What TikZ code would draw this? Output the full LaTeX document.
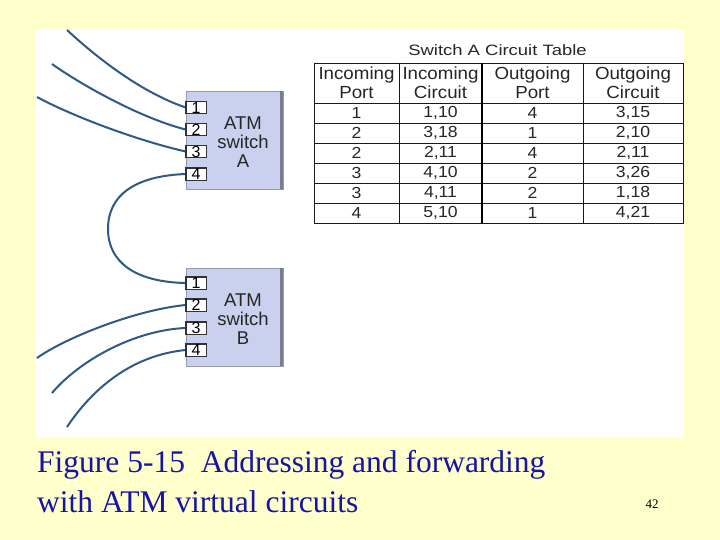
\documentclass[tikz,border=0pt]{standalone}
\usepackage{fontspec}
\setmainfont{Liberation Serif}
\setsansfont{Liberation Sans}
\definecolor{bgyellow}{RGB}{255,255,204}
\definecolor{wirecol}{RGB}{45,90,135}
\definecolor{boxfill}{RGB}{201,209,238}
\definecolor{boxline}{RGB}{150,155,170}
\definecolor{shadowcol}{RGB}{120,125,145}
\definecolor{captblue}{RGB}{20,20,165}
\newcommand\tabxs[2]{\scalebox{#1}[1]{#2}}
\begin{document}
\begin{tikzpicture}[x=1pt,y=-1pt,
  wire/.style={draw=wirecol, line width=2pt},
  swbox/.style={draw=boxline, fill=boxfill, line width=0.6pt, minimum width=97pt, minimum height=98pt, inner sep=0pt},
  portbox/.style={draw=black!80, fill=white, line width=0.7pt, minimum width=20pt, minimum height=12pt, inner sep=0pt, font=\sffamily\fontsize{16}{16}\selectfont},
  swlabel/.style={font=\sffamily\fontsize{18.5}{19}\selectfont, align=center, text=black!85},
  hdr/.style={font=\sffamily\fontsize{17.5}{19}\selectfont, align=center, inner sep=0pt, text=black!85},
  cell/.style={font=\sffamily\fontsize{16}{16}\selectfont, inner sep=0pt, text=black!85},
  grid/.style={draw=black!90, line width=0.8pt},
  capt/.style={font=\fontsize{31.5}{40}\selectfont, text=captblue, inner sep=0pt}
]
\useasboundingbox (0,0) rectangle (720,540);
\fill[bgyellow] (0,0) rectangle (720,540);
\fill[white] (36,30) rectangle (684,437);

% switch A
\node[swbox] (swA) at (234.5,140) {};
\draw[shadowcol, line width=3pt] ([xshift=-1.5pt]swA.north east) -- ([xshift=-1.5pt]swA.south east);
\node[swlabel] (labA) at (243,142) {ATM\\switch\\A};
\node[portbox] (pA1) at (196,107.5) {1};
\node[portbox] (pA2) at (196,129.5) {2};
\node[portbox] (pA3) at (196,151.5) {3};
\node[portbox] (pA4) at (196,174) {4};

% switch B
\node[swbox] (swB) at (234.5,317) {};
\draw[shadowcol, line width=3pt] ([xshift=-1.5pt]swB.north east) -- ([xshift=-1.5pt]swB.south east);
\node[swlabel] (labB) at (243,319) {ATM\\switch\\B};
\node[portbox] (pB1) at (196,283) {1};
\node[portbox] (pB2) at (196,305) {2};
\node[portbox] (pB3) at (196,328) {3};
\node[portbox] (pB4) at (196,350) {4};

% wire ends
\coordinate (eA1) at (67,30);
\coordinate (eA2) at (52,64);
\coordinate (eA3) at (37,97);
\coordinate (mid) at (108,229);
\coordinate (eB2) at (37,358);
\coordinate (eB3) at (52,393);
\coordinate (eB4) at (67,427);

\draw[wire] (pA1.west) .. controls (140,92) and (95,56) .. (eA1);
\draw[wire] (pA2.west) .. controls (140,118) and (80,84) .. (eA2);
\draw[wire] (pA3.west) .. controls (135,140) and (70,115) .. (eA3);
\draw[wire] (pA4.west) .. controls (135,176) and (108,195) .. (mid)
                       .. controls (108,262) and (135,282) .. (pB1.west);
\draw[wire] (pB2.west) .. controls (135,310) and (65,338) .. (eB2);
\draw[wire] (pB3.west) .. controls (135,330) and (80,360) .. (eB3);
\draw[wire] (pB4.west) .. controls (135,355) and (95,385) .. (eB4);
% redraw port outlines over wire ends
\foreach \p in {pA1,pA2,pA3,pA4,pB1,pB2,pB3,pB4}{
  \draw[black!80, line width=0.7pt] (\p.north west) rectangle (\p.south east);
}

% table
\node[font=\sffamily\fontsize{15}{15}\selectfont, text=black!85] (title) at (497.5,50.5) {\tabxs{1.23}{Switch A Circuit Table}};
\draw[grid] (314,63) rectangle (683,223);
\foreach \yy in {103,123,143,163,183,203}{
  \draw[grid] (314,\yy) -- (683,\yy);
}
\draw[grid] (399,63) -- (399,223);
\draw[grid] (583,63) -- (583,223);
\draw[draw=black, line width=2pt] (482,63) -- (482,223);

\node[hdr] (h1) at (356.5,82.5) {\tabxs{1.07}{Incoming}\\\tabxs{1.07}{Port}};
\node[hdr] (h2) at (440.5,82.5) {\tabxs{1.07}{Incoming}\\\tabxs{1.07}{Circuit}};
\node[hdr] (h3) at (532.5,82.5) {\tabxs{1.07}{Outgoing}\\\tabxs{1.07}{Port}};
\node[hdr] (h4) at (633,82.5) {\tabxs{1.07}{Outgoing}\\\tabxs{1.07}{Circuit}};

\foreach \a/\b/\c/\d [count=\i] in {1/{1,10}/4/{3,15}, 2/{3,18}/1/{2,10}, 2/{2,11}/4/{2,11}, 3/{4,10}/2/{3,26}, 3/{4,11}/2/{1,18}, 4/{5,10}/1/{4,21}}{
  \node[cell] (r\i c1) at (356.5,93+20*\i) {\tabxs{1.1}{\a}};
  \node[cell] (r\i c2) at (440.5,93+20*\i) {\tabxs{1.1}{\b}};
  \node[cell] (r\i c3) at (532.5,93+20*\i) {\tabxs{1.1}{\c}};
  \node[cell] (r\i c4) at (633,93+20*\i) {\tabxs{1.1}{\d}};
}

% caption
\node[capt, anchor=base west] (cap1) at (37,472) {Figure 5-15~ Addressing and forwarding};
\node[capt, anchor=base west] (cap2) at (37,512) {with ATM virtual circuits};
\node[font=\fontsize{13}{13}\selectfont, text=black] (pg) at (652,504) {42};
\end{tikzpicture}
\end{document}
